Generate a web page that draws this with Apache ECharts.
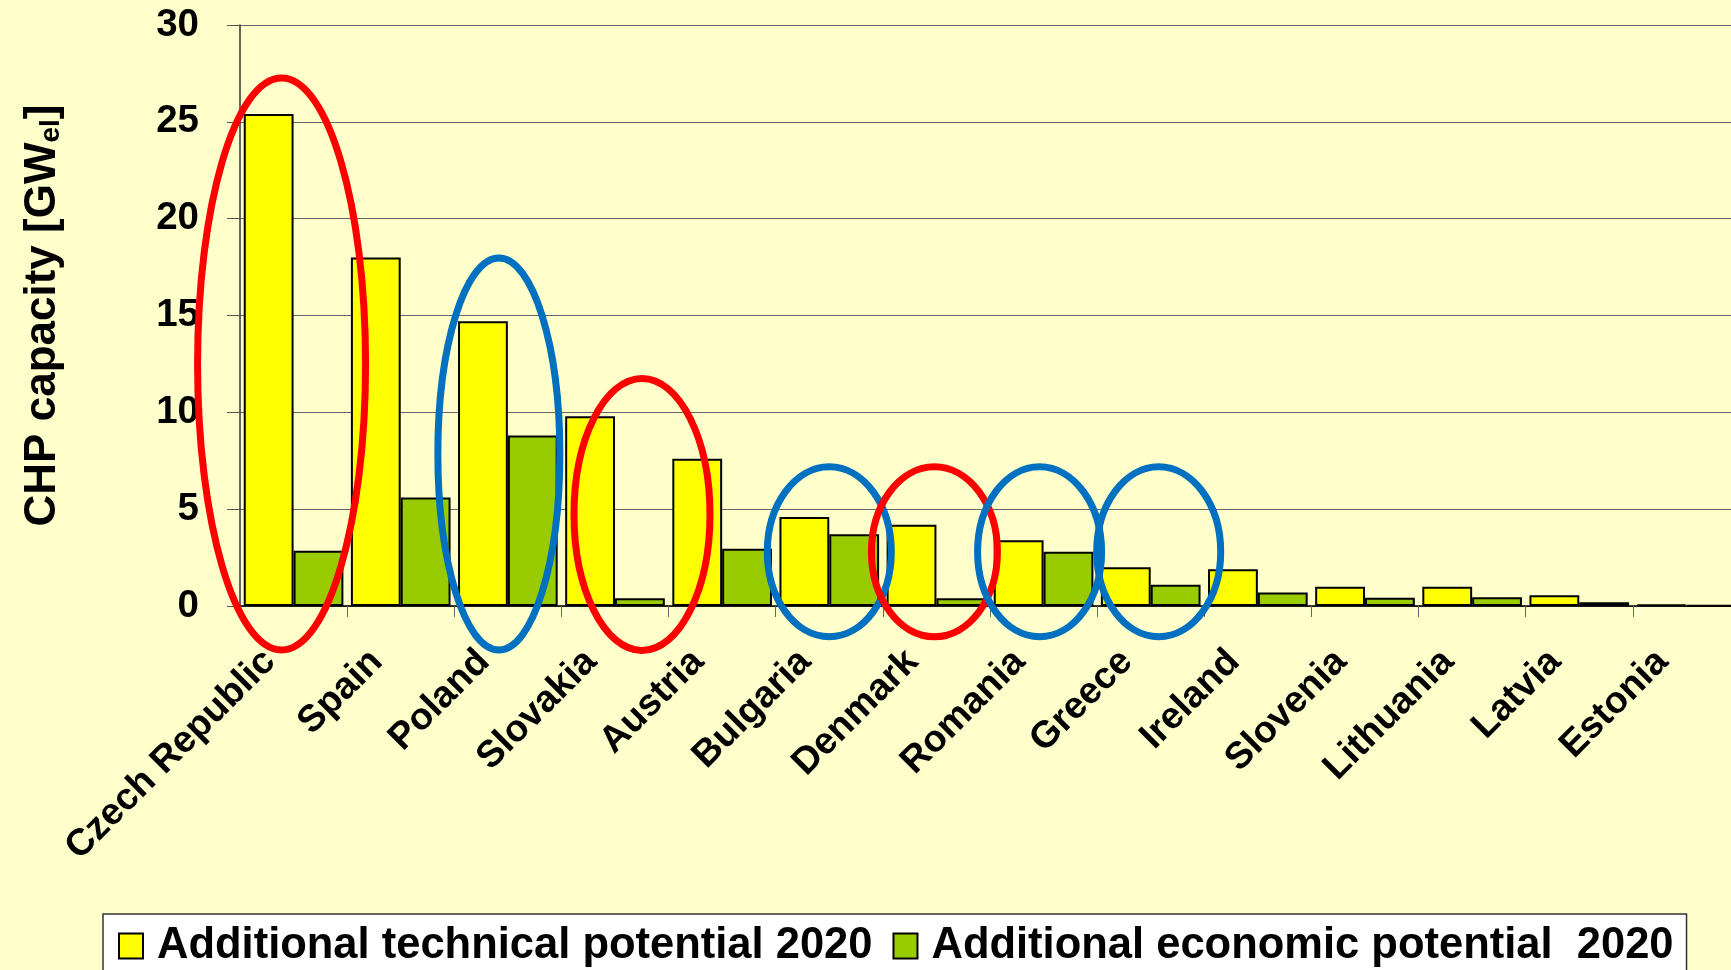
<!DOCTYPE html>
<html><head><meta charset="utf-8">
<script src="https://cdn.jsdelivr.net/npm/echarts@6/dist/echarts.min.js"></script>
<style>html,body{margin:0;padding:0;background:#FFFFCC}#c{width:1731px;height:970px}</style>
</head><body><div id="c"></div>
<script>
const categories = ['Czech Republic','Spain','Poland','Slovakia','Austria','Bulgaria','Denmark','Romania','Greece','Ireland','Slovenia','Lithuania','Latvia','Estonia'];
const technical = [25.4, 18.0, 14.7, 9.8, 7.6, 4.6, 4.2, 3.4, 2.0, 1.9, 1.0, 1.0, 0.55, 0.07];
const economic  = [2.85, 5.6, 8.8, 0.4, 2.95, 3.7, 0.4, 2.8, 1.1, 0.7, 0.43, 0.45, 0.2, 0.03];
const seriesNames = ['Additional technical potential 2020', 'Additional economic potential  2020'];
const yMin = 0, yMax = 30, yStep = 5;

// annotation ellipses (category, value at centre)
const rings = [
  {cat:'Czech Republic', v:12.5, dx:-12, rx:84, ry:286, color:'#FF0000'},
  {cat:'Poland',   v:7.85, dx:-9, rx:61, ry:196, color:'#0070C0'},
  {cat:'Slovakia', v:4.73, dx:27, rx:68, ry:136, color:'#FF0000'},
  {cat:'Bulgaria', v:2.8,  dx:0,  rx:62, ry:85,  color:'#0070C0'},
  {cat:'Denmark',  v:2.8,  dx:-2, rx:63, ry:85,  color:'#FF0000'},
  {cat:'Romania',  v:2.8,  dx:-4, rx:62, ry:85,  color:'#0070C0'},
  {cat:'Greece',   v:2.8,  dx:8,  rx:62, ry:85,  color:'#0070C0'}
];

const FONT = "'Liberation Sans', Arial, Helvetica, sans-serif";
const chart = echarts.init(document.getElementById('c'), null, {renderer:'canvas'});
chart.setOption({
  backgroundColor: '#FFFFCC',
  animation: false,
  grid: {left: 240, width: 1500, top: 25, bottom: 364, containLabel: false, outerBoundsMode: 'none'},
  legend: {
    left: 103, top: 914, icon: 'rect',
    backgroundColor: '#FFFFFF', borderColor: '#333', borderWidth: 1.5,
    padding: [10, 13, 10, 15],
    itemWidth: 24, itemHeight: 25, itemGap: 20,
    textStyle: {fontFamily: FONT, fontWeight: 'bold', fontSize: 43.5, color: '#000', padding: [0,0,0,9]},
    data: seriesNames
  },
  xAxis: {
    type: 'category', data: categories,
    axisLine: {lineStyle: {color: '#000', width: 1.5}},
    axisTick: {show: true, length: 11, lineStyle: {color: '#666'}},
    axisLabel: {
      rotate: 45, margin: 26, interval: 0,
      fontFamily: FONT, fontWeight: 'bold', fontSize: 37.5, color: '#000',
      formatter: v => '{a|' + v + '}',
      rich: {a: {fontFamily: FONT, fontWeight: 'bold', fontSize: 37.5, color: '#000', padding: [0, 34, 0, 0]}}
    }
  },
  yAxis: {
    type: 'value', min: yMin, max: yMax, interval: yStep,
    name: 'CHP capacity [GW{sub|el}]',
    nameLocation: 'middle', nameGap: 175, nameRotate: 90,
    nameTextStyle: {fontFamily: FONT, fontWeight: 'bold', fontSize: 44, color: '#000', lineHeight: 44,
      rich: {sub: {fontFamily: FONT, fontWeight: 'bold', fontSize: 28, lineHeight: 16, verticalAlign: 'bottom', color: '#000'}}},
    axisLine: {show: true, lineStyle: {color: '#333', width: 1.5}},
    axisTick: {show: true, length: 13, lineStyle: {color: '#555'}},
    axisLabel: {margin: 41, fontFamily: FONT, fontWeight: 'bold', fontSize: 38.5, color: '#000'},
    splitLine: {show: true, lineStyle: {color: '#666', width: 1}}
  },
  series: [
    {name: seriesNames[0], type: 'bar', data: technical, barGap: '0%', barCategoryGap: '7%',
     itemStyle: {color: '#FFFF00', borderColor: '#000', borderWidth: 2}},
    {name: seriesNames[1], type: 'bar', data: economic, barGap: '0%', barCategoryGap: '7%',
     itemStyle: {color: '#99CC00', borderColor: '#000', borderWidth: 2}}
  ]
});

const graphics = rings.map(r => {
  const p = chart.convertToPixel({gridIndex: 0}, [r.cat, r.v]);
  return {type: 'ellipse', z: 100, silent: true,
    shape: {cx: p[0] + r.dx, cy: p[1], rx: r.rx, ry: r.ry},
    style: {fill: null, stroke: r.color, lineWidth: 7}};
});
chart.setOption({graphic: graphics});
</script></body></html>
